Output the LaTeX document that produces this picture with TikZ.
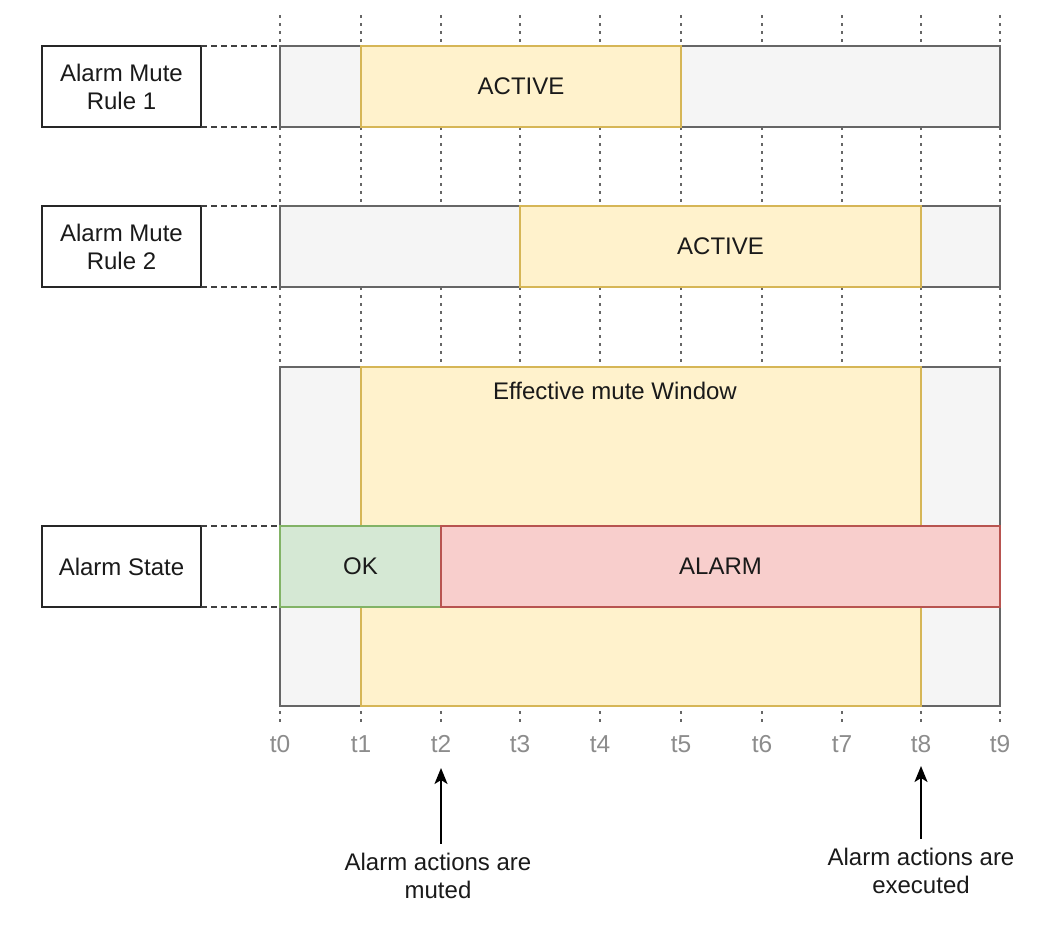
\documentclass[tikz,border=0pt]{standalone}
\usepackage{fontspec}
\setmainfont{Liberation Sans}
\usetikzlibrary{arrows.meta}
\definecolor{gfill}{HTML}{F5F5F5}
\definecolor{gline}{HTML}{666666}
\definecolor{yfill}{HTML}{FFF2CC}
\definecolor{yline}{HTML}{D6B656}
\definecolor{grfill}{HTML}{D5E8D4}
\definecolor{grline}{HTML}{82B366}
\definecolor{rfill}{HTML}{F8CECC}
\definecolor{rline}{HTML}{B85450}
\definecolor{txt}{HTML}{1A1A1A}
\definecolor{ticktxt}{HTML}{8C8C8C}
\tikzset{
  txtfont/.style={font=\fontsize{24}{28}\selectfont, text=txt},
  bar/.style={draw, line width=2pt, inner sep=0pt, outer sep=0pt, anchor=north west, txtfont},
  graybar/.style={bar, draw=gline, fill=gfill},
  yelbar/.style={bar, draw=yline, fill=yfill},
  greenbar/.style={bar, draw=grline, fill=grfill},
  redbar/.style={bar, draw=rline, fill=rfill},
  lblbox/.style={draw=black!85, line width=2.2pt, fill=white, inner sep=0pt, outer sep=0pt,
    anchor=north west, minimum width=159pt, minimum height=81pt, align=center, txtfont},
  guide/.style={draw=gline, line width=2pt, dash pattern=on 3pt off 5pt},
  link/.style={draw=black!75, line width=2pt, dash pattern=on 6pt off 4pt},
  ticklbl/.style={font=\fontsize{24.5}{28}\selectfont, text=ticktxt},
  note/.style={txtfont, align=center},
  pointer/.style={draw=black, line width=2pt, -{Stealth[length=16pt,width=13pt,inset=4pt]}}
}
\begin{document}
\begin{tikzpicture}[x=1pt, y=-1pt]
\useasboundingbox (0,0) rectangle (1054,926);
\fill[white] (0,0) rectangle (1054,926);
% vertical guides
\foreach \i/\x in {0/280,1/361,2/441,3/520,4/600,5/681,6/762,7/842,8/921,9/1000}{
  \coordinate (top\i) at (\x,15);
  \coordinate (bot\i) at (\x,722);
  \path[guide] (top\i) -- (bot\i);
  \node[ticklbl] (tick\i) at (\x,744) {t\i};
}
% row 1
\node[lblbox] (lbl1) at (42,46) {Alarm Mute\\Rule 1};
\node[graybar, minimum width=720pt, minimum height=81pt] (bar1) at (280,46) {};
\node[yelbar, minimum width=320pt, minimum height=81pt] (act1) at (361,46) {ACTIVE};
\path[link] (lbl1.north east) -- (bar1.north west);
\path[link] (lbl1.south east) -- (bar1.south west);
% row 2
\node[lblbox] (lbl2) at (42,206) {Alarm Mute\\Rule 2};
\node[graybar, minimum width=720pt, minimum height=81pt] (bar2) at (280,206) {};
\node[yelbar, minimum width=401pt, minimum height=81pt] (act2) at (520,206) {ACTIVE};
\path[link] (lbl2.north east) -- (bar2.north west);
\path[link] (lbl2.south east) -- (bar2.south west);
% effective window
\node[graybar, minimum width=720pt, minimum height=339pt] (effbg) at (280,367) {};
\node[yelbar, minimum width=560pt, minimum height=339pt] (eff) at (361,367) {};
\node[txtfont] (efftxt) at (615,391) {Effective mute Window};
% alarm state
\node[lblbox] (lbl3) at (42,526) {Alarm State};
\node[greenbar, minimum width=161pt, minimum height=81pt] (ok) at (280,526) {OK};
\node[redbar, minimum width=559pt, minimum height=81pt] (alarm) at (441,526) {ALARM};
\path[link] (lbl3.north east) -- (ok.north west);
\path[link] (lbl3.south east) -- (ok.south west);
% notes
\node[note] (note1) at (438,876) {Alarm actions are\\muted};
\node[note] (note2) at (921,871) {Alarm actions are\\executed};
\coordinate (tip1) at (441,768);
\coordinate (tip2) at (921,766);
\draw[pointer] (note1.north -| tip1) ++(0,-6) -- (tip1);
\draw[pointer] (note2.north -| tip2) ++(0,-6) -- (tip2);
\end{tikzpicture}
\end{document}
